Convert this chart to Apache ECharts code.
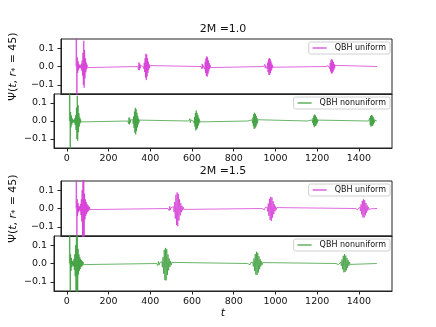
<!DOCTYPE html>
<html>
<head>
<meta charset="utf-8">
<script src="https://cdn.jsdelivr.net/npm/echarts@6/dist/echarts.min.js"></script>
<style>
  html, body { margin: 0; padding: 0; background: #fff; }
  #chart { width: 436px; height: 327px; }
</style>
</head>
<body>
<div id="chart"></div>
<script>
// time range of the simulation output
const T_START = 12;
const T_END = 1486;
const xTicks = [0, 200, 400, 600, 800, 1000, 1200, 1400];
const yTicks = [-0.1, 0, 0.1];
const titles = ["2M =1.0", "2M =1.5"];

// bursts: [start t, sample step, samples]
const uniform10 = [
  [12, 2, [0, 0.45, -0.35, 0.05, -0.035, 0.03, -0.02, 0.015, -0.01, 0.008, -0.006, 0.006, -0.01, 0.015, -0.022, 0.032, -0.05, 0.075, -0.1, 0.14, -0.115, 0.09, -0.065, 0.045, -0.032, 0.022, -0.015, 0.01, -0.006, 0.004, 0]],
  [314, 2, [0, 0.01, -0.018, 0.022, -0.02, 0.015, -0.01, 0.006, 0]],
  [340, 2, [0, 0.006, -0.012, 0.02, -0.03, 0.045, -0.06, 0.069, -0.074, 0.065, -0.055, 0.045, -0.035, 0.026, -0.018, 0.012, -0.008, 0.005, -0.003, 0]],
  [624, 2, [0, 0.008, -0.012, 0.014, -0.01, 0.006, 0]],
  [638, 2, [0, 0.008, -0.015, 0.025, -0.035, 0.045, -0.052, 0.055, -0.055, 0.05, -0.042, 0.034, -0.026, 0.019, -0.013, 0.009, -0.006, 0.003, 0]],
  [930, 2, [0, 0.006, -0.01, 0.012, -0.009, 0.005, 0]],
  [944, 2, [0, 0.007, -0.013, 0.021, -0.03, 0.039, -0.045, 0.046, -0.046, 0.042, -0.036, 0.029, -0.022, 0.016, -0.011, 0.007, -0.004, 0.002, 0]],
  [1236, 2, [0, 0.005, -0.009, 0.01, -0.008, 0.004, 0]],
  [1250, 2, [0, 0.006, -0.012, 0.019, -0.027, 0.034, -0.038, 0.04, -0.037, 0.034, -0.029, 0.024, -0.018, 0.013, -0.009, 0.006, -0.003, 0.002, 0]]
];
const nonuniform10 = [
  [12, 2, [0, 0.45, -0.35, 0.05, -0.035, 0.03, -0.02, 0.015, -0.01, 0.008, -0.006, 0.006, -0.01, 0.015, -0.022, 0.032, -0.05, 0.075, -0.1, 0.14, -0.11, 0.088, -0.062, 0.043, -0.03, 0.02, -0.013, 0.009, -0.005, 0.003, 0]],
  [292, 2, [0, 0.008, -0.015, 0.02, -0.019, 0.014, -0.009, 0.005, 0]],
  [314, 2, [0, 0.008, -0.015, 0.025, -0.038, 0.052, -0.065, 0.073, -0.074, 0.066, -0.056, 0.046, -0.036, 0.027, -0.019, 0.013, -0.008, 0.005, -0.003, 0]],
  [584, 2, [0, 0.006, -0.011, 0.013, -0.01, 0.006, 0]],
  [606, 2, [0, 0.007, -0.013, 0.022, -0.032, 0.044, -0.052, 0.058, -0.046, 0.045, -0.04, 0.033, -0.026, 0.019, -0.013, 0.009, -0.005, 0.003, 0]],
  [868, 2, [0, 0.005, -0.009, 0.011, -0.008, 0.004, 0]],
  [886, 2, [0, 0.006, -0.012, 0.02, -0.029, 0.038, -0.044, 0.046, -0.04, 0.039, -0.034, 0.028, -0.022, 0.016, -0.011, 0.007, -0.004, 0.002, 0]],
  [1156, 2, [0, 0.004, -0.008, 0.009, -0.007, 0.004, 0]],
  [1174, 2, [0, 0.005, -0.01, 0.016, -0.023, 0.03, -0.034, 0.036, -0.028, 0.03, -0.026, 0.022, -0.017, 0.012, -0.008, 0.005, -0.003, 0.002, 0]],
  [1446, 2, [0, 0.005, -0.01, 0.016, -0.022, 0.028, -0.031, 0.033, -0.028, 0.03, -0.027, 0.023, -0.018, 0.013, -0.008, 0.005, 0]]
];
const uniform15 = [
  [12, 2, [0, 0.5, -0.4, 0.05, -0.04, 0.03, -0.02, 0.015, -0.01, 0.01, -0.015, 0.025, -0.035, 0.05, -0.07, 0.1, -0.16, 0.3, -0.25, 0.2, -0.16, 0.08, -0.06, 0.05, -0.04, 0.035, -0.03, 0.025, -0.02, 0.018, -0.015, 0.012, -0.01, 0.008, -0.006, 0.004, -0.003, 0.002, 0]],
  [462, 3, [0, 0.008, -0.012, 0.012, -0.008, 0.005, 0]],
  [486, 3, [0, 0.01, -0.02, 0.035, -0.055, 0.075, -0.09, 0.088, -0.097, 0.08, -0.065, 0.05, -0.038, 0.028, -0.02, 0.014, -0.01, 0.007, -0.005, 0.003, 0]],
  [922, 3, [0, 0.006, -0.01, 0.01, -0.007, 0.004, 0]],
  [944, 3, [0, 0.008, -0.016, 0.027, -0.04, 0.053, -0.062, 0.064, -0.068, 0.06, -0.05, 0.04, -0.031, 0.023, -0.016, 0.011, -0.007, 0.005, -0.003, 0.002, 0]],
  [1378, 3, [0, 0.005, -0.008, 0.008, -0.006, 0.003, 0]],
  [1398, 3, [0, 0.007, -0.013, 0.022, -0.032, 0.042, -0.048, 0.05, -0.05, 0.045, -0.038, 0.03, -0.023, 0.017, -0.012, 0.008, -0.005, 0.004, -0.003, 0.002, -0.001, 0]]
];
const nonuniform15 = [
  [12, 2, [0, 0.5, -0.4, 0.05, -0.04, 0.03, -0.02, 0.015, -0.01, 0.01, -0.015, 0.025, -0.035, 0.05, -0.07, 0.1, -0.16, 0.3, -0.25, 0.2, -0.16, 0.08, -0.06, 0.05, -0.04, 0.035, -0.03, 0.025, -0.02, 0.018, -0.015, 0.012, -0.01, 0.008, -0.006, 0.004, -0.003, 0.002, 0]],
  [430, 3, [0, 0.007, -0.011, 0.011, -0.008, 0.004, 0]],
  [452, 3, [0, 0.01, -0.02, 0.035, -0.055, 0.075, -0.091, 0.085, -0.092, 0.078, -0.063, 0.049, -0.037, 0.027, -0.019, 0.013, -0.009, 0.006, -0.004, 0.002, 0]],
  [866, 3, [0, 0.006, -0.01, 0.01, -0.007, 0.004, 0]],
  [888, 3, [0, 0.008, -0.016, 0.027, -0.04, 0.052, -0.06, 0.064, -0.063, 0.058, -0.049, 0.04, -0.031, 0.023, -0.016, 0.011, -0.007, 0.005, -0.003, 0]],
  [1290, 3, [0, 0.005, -0.008, 0.008, -0.006, 0.003, 0]],
  [1310, 3, [0, 0.007, -0.013, 0.022, -0.032, 0.042, -0.048, 0.051, -0.046, 0.043, -0.037, 0.03, -0.023, 0.017, -0.012, 0.008, -0.005, 0.003, 0]]
];

const MAGENTA = "#d63ad6";
const GREEN = "#3a9e3a";
const FONT = "DejaVu Sans";

function toPoints(bursts) {
  const pts = [[T_START, 0]];
  bursts.forEach(b => {
    b[2].forEach((v, i) => pts.push([b[0] + i * b[1], v]));
  });
  pts.push([T_END, 0]);
  return pts;
}

const panels = [
  { data: uniform10, name: "QBH uniform", color: MAGENTA, top: 39, height: 55 },
  { data: nonuniform10, name: "QBH nonuniform", color: GREEN, top: 94, height: 54 },
  { data: uniform15, name: "QBH uniform", color: MAGENTA, top: 181, height: 55 },
  { data: nonuniform15, name: "QBH nonuniform", color: GREEN, top: 236, height: 55 }
];

const yName = "{a|Ψ(}{i|t}{a|, }{i|r}{s|*}{a| = 45)}";

const myChart = echarts.init(document.getElementById("chart"), null, { renderer: "canvas" });
myChart.setOption({
  animation: false,
  textStyle: { fontFamily: FONT },
  title: titles.map((t, k) => ({
    text: t,
    left: 223,
    top: k === 0 ? 24 : 166,
    textAlign: "center",
    padding: 0,
    textStyle: { fontFamily: FONT, fontSize: 11, fontWeight: "normal", color: "#111" }
  })),
  legend: panels.map((p, k) => ({
    data: [{ name: p.name, icon: "rect" }],
    right: 46,
    top: p.top + 3,
    padding: [2, 4, 2, 4],
    itemWidth: 14,
    itemHeight: 1.2,
    itemGap: 0,
    borderColor: "#d0d0d0",
    borderWidth: 1,
    borderRadius: 2,
    backgroundColor: "rgba(255,255,255,0.8)",
    selectedMode: false,
    textStyle: { fontFamily: FONT, fontSize: 8, color: "#111", padding: [0, 0, 0, 3] }
  })),
  grid: panels.map(p => ({
    left: 54,
    width: 338,
    top: p.top,
    height: p.height,
    show: true,
    borderColor: "#222",
    borderWidth: 1,
    backgroundColor: "transparent"
  })),
  xAxis: panels.map((p, k) => ({
    type: "value",
    gridIndex: k,
    min: -61.6,
    max: 1558.6,
    splitLine: { show: false },
    axisLine: { show: true, onZero: false, lineStyle: { color: "#222", width: 1 } },
    axisTick: { show: k % 2 === 1, length: 3.5, lineStyle: { color: "#222" }, customValues: xTicks },
    axisLabel: {
      show: k % 2 === 1,
      margin: 6,
      fontSize: 9.5,
      color: "#111",
      fontFamily: FONT,
      customValues: xTicks,
      formatter: v => String(v)
    },
    name: k === 3 ? "t" : "",
    nameLocation: "middle",
    nameGap: 17,
    nameTextStyle: { fontFamily: FONT, fontSize: 11, fontStyle: "italic", color: "#111" }
  })),
  yAxis: panels.map((p, k) => ({
    type: "value",
    gridIndex: k,
    min: -0.15,
    max: 0.15,
    splitLine: { show: false },
    axisLine: { show: true, onZero: false, lineStyle: { color: "#222", width: 1 } },
    axisTick: { show: true, length: 3.5, lineStyle: { color: "#222" }, customValues: yTicks },
    axisLabel: {
      margin: 7,
      fontSize: 9.5,
      color: "#111",
      fontFamily: FONT,
      customValues: yTicks,
      formatter: v => (v < 0 ? "\u2212" : "") + Math.abs(v).toFixed(1)
    },
    name: k % 2 === 0 ? yName : "",
    nameLocation: "middle",
    nameRotate: 90,
    nameGap: 29,
    nameTextStyle: {
      color: "#111",
      rich: {
        a: { fontFamily: FONT, fontSize: 11, color: "#111" },
        i: { fontFamily: FONT, fontSize: 11, fontStyle: "italic", color: "#111" },
        s: { fontFamily: FONT, fontSize: 8, color: "#111", verticalAlign: "bottom", padding: [5, 1, 0, 0] }
      }
    }
  })),
  series: panels.map((p, k) => ({
    name: p.name,
    type: "line",
    xAxisIndex: k,
    yAxisIndex: k,
    data: toPoints(p.data),
    symbol: "none",
    clip: true,
    color: p.color,
    lineStyle: { width: 0.9, color: p.color, opacity: 0.85 }
  }))
});
</script>
</body>
</html>
